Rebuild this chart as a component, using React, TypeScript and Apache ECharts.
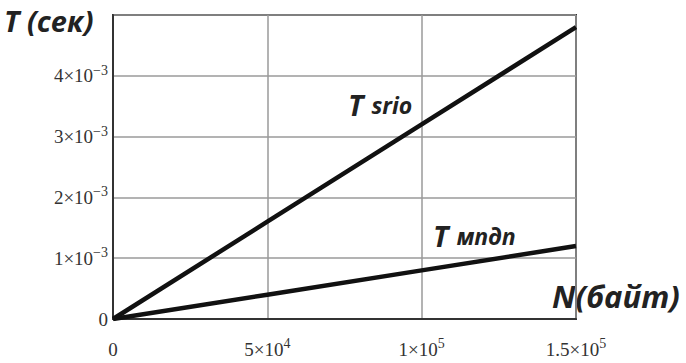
import React, { useEffect, useRef } from "react";
import * as echarts from "echarts";

const nValues = [0, 50000, 100000, 150000];
const tSrio = [0, 0.0016, 0.0032, 0.0048];
const tMpdp = [0, 0.0004, 0.0008, 0.0012];
const xTicks = { min: 0, max: 150000, interval: 50000 };
const yTicks = { min: 0, max: 0.005, interval: 0.001 };
const yTitle = "T (сек)";
const xTitle = "N(байт)";
const seriesNames = ["T srio", "T мпдп"];

function sci(v: number): string {
  if (v === 0) return "{a|0}";
  const e = Math.floor(Math.log10(Math.abs(v)) + 1e-9);
  const m = +(v / Math.pow(10, e)).toFixed(2);
  const exp = e < 0 ? "\u2212" + Math.abs(e) : String(e);
  return `{a|${m}\u00d710}{s|${exp}}`;
}

const rich = {
  a: { fontFamily: "Liberation Serif", fontSize: 19, color: "#333", lineHeight: 24 },
  s: { fontFamily: "Liberation Serif", fontSize: 14, color: "#333", padding: [0, 0, 11, 0], lineHeight: 24 },
};

const bi = { fontFamily: "Open Sans", fontWeight: "bold", fontStyle: "italic", fill: "#222" };

export default function App() {
  const ref = useRef<HTMLDivElement>(null);
  useEffect(() => {
    if (!ref.current) return;
    const chart = echarts.init(ref.current, null, { renderer: "svg" });
    chart.setOption({
      animation: false,
      backgroundColor: "#fff",
      grid: { left: 113, right: 110, top: 15, bottom: 44, show: true, borderColor: "#333", borderWidth: 2, backgroundColor: "transparent" },
      xAxis: {
        type: "value",
        ...xTicks,
        axisLine: { show: true, lineStyle: { color: "#333", width: 2 } },
        axisTick: { show: false },
        splitLine: { show: true, lineStyle: { color: "#9a9a9a", width: 1.5 } },
        axisLabel: { margin: 18, formatter: (v: number) => sci(v), rich },
      },
      yAxis: {
        type: "value",
        ...yTicks,
        axisLine: { show: true, lineStyle: { color: "#333", width: 2 } },
        axisTick: { show: false },
        splitLine: { show: true, lineStyle: { color: "#9a9a9a", width: 1.5 } },
        axisLabel: { margin: 5, formatter: (v: number) => (v >= yTicks.max ? "" : sci(v)), rich },
      },
      series: [
        {
          name: seriesNames[0],
          type: "line",
          data: nValues.map((n, i) => [n, tSrio[i]]),
          showSymbol: false,
          lineStyle: { color: "#111", width: 4.5 },
          z: 5,
        },
        {
          name: seriesNames[1],
          type: "line",
          data: nValues.map((n, i) => [n, tMpdp[i]]),
          showSymbol: false,
          lineStyle: { color: "#111", width: 4.5 },
          z: 5,
        },
      ],
      graphic: [
        { type: "text", left: 4, top: 6, style: { text: yTitle, fontSize: 29, ...bi } },
        { type: "text", left: 552, top: 280, style: { text: xTitle, fontSize: 31, ...bi } },
        {
          type: "text", left: 348, top: 90,
          style: {
            text: "{t|T}{s|srio}",
            rich: { t: { fontSize: 29, ...bi }, s: { fontSize: 23, padding: [0, 0, 0, 8], ...bi } },
          },
        },
        {
          type: "text", left: 433, top: 221,
          style: {
            text: "{t|T}{s|мпдп}",
            rich: { t: { fontSize: 29, ...bi }, s: { fontSize: 23, padding: [0, 0, 0, 8], ...bi } },
          },
        },
      ],
    });
    return () => chart.dispose();
  }, []);
  return <div ref={ref} style={{ width: 686, height: 363, position: "absolute", left: 0, top: 0 }} />;
}
